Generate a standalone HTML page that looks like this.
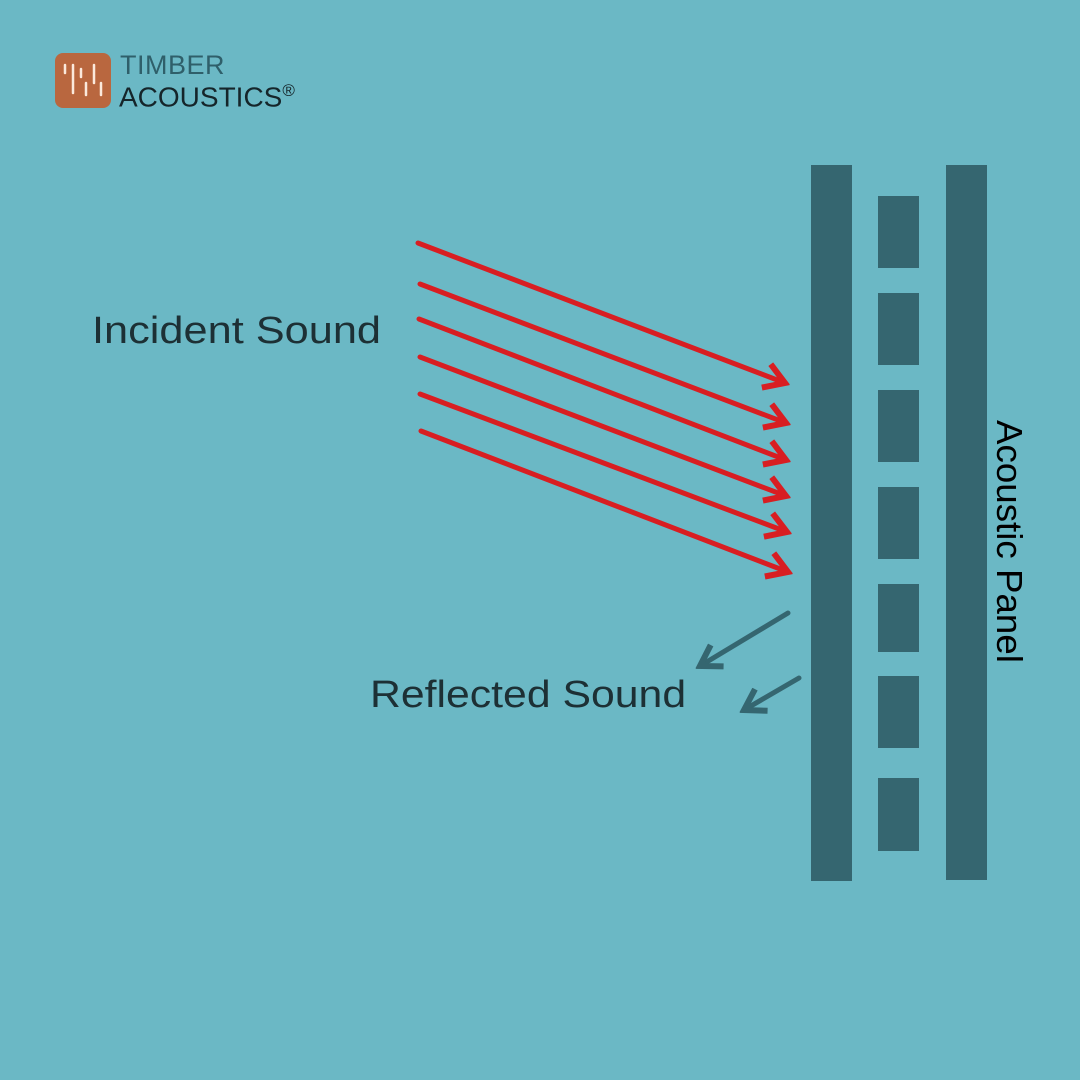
<!DOCTYPE html>
<html><head><style>
body{margin:0;width:1080px;height:1080px;background:#6bb8c5;position:relative;overflow:hidden;font-family:"Liberation Sans",sans-serif}
.b{position:absolute;background:#356670}
.t{position:absolute;white-space:nowrap}
</style></head><body>
<div style="position:absolute;left:55px;top:53px;width:56px;height:55px;background:#b9673f;border-radius:8px"></div>
<svg style="position:absolute;left:55px;top:53px" width="56" height="55"><g stroke="#fbe9dc" stroke-width="2.5" stroke-linecap="round"><line x1="10" y1="12" x2="10" y2="20"/><line x1="18" y1="12" x2="18" y2="40"/><line x1="26" y1="16" x2="26" y2="24"/><line x1="31" y1="30" x2="31" y2="42"/><line x1="39" y1="12" x2="39" y2="30"/><line x1="46" y1="30" x2="46" y2="42"/></g></svg>
<div class="t" style="left:120px;top:50px;font-size:27px;color:#2f5f6a;font-weight:300;letter-spacing:0.5px">TIMBER</div>
<div class="t" style="left:119px;top:81px;font-size:28px;color:#15252a">ACOUSTICS<sup style="font-size:17px">®</sup></div>
<div class="t" style="left:92px;top:310px;font-size:38px;color:#1d3035;transform:scaleX(1.14);transform-origin:0 0">Incident Sound</div>
<div class="t" style="left:370px;top:674px;font-size:38px;color:#1d3035;transform:scaleX(1.125);transform-origin:0 0">Reflected Sound</div>
<div class="b" style="left:811px;top:165px;width:41px;height:716px"></div>
<div class="b" style="left:946px;top:165px;width:41px;height:715px"></div>
<div class="b" style="left:878px;top:196px;width:41px;height:72px"></div>
<div class="b" style="left:878px;top:293px;width:41px;height:72px"></div>
<div class="b" style="left:878px;top:390px;width:41px;height:72px"></div>
<div class="b" style="left:878px;top:487px;width:41px;height:72px"></div>
<div class="b" style="left:878px;top:584px;width:41px;height:68px"></div>
<div class="b" style="left:878px;top:676px;width:41px;height:72px"></div>
<div class="b" style="left:878px;top:778px;width:41px;height:73px"></div>
<div class="t" style="left:1030px;top:420px;font-size:36px;color:#000;transform:rotate(90deg) scaleX(1.02);transform-origin:0 0">Acoustic Panel</div>
<svg style="position:absolute;left:0;top:0" width="1080" height="1080">
<defs>
<marker id="r" markerWidth="6" markerHeight="6" refX="5" refY="3" orient="auto" markerUnits="strokeWidth"><path d="M1,0.5 L5,3 L1,5.5" fill="none" stroke="#d81e22" stroke-width="1.2"/></marker>
<marker id="g" markerWidth="6" markerHeight="6" refX="1" refY="3" orient="auto" markerUnits="strokeWidth"><path d="M5,0.5 L1,3 L5,5.5" fill="none" stroke="#356670" stroke-width="1.2"/></marker>
</defs>
<g stroke="#d81e22" stroke-width="5" fill="none" stroke-linecap="round">
<line x1="418" y1="243" x2="785" y2="383" marker-end="url(#r)"/>
<line x1="420" y1="284" x2="786" y2="423" marker-end="url(#r)"/>
<line x1="419" y1="319" x2="786" y2="460" marker-end="url(#r)"/>
<line x1="420" y1="357" x2="786" y2="496" marker-end="url(#r)"/>
<line x1="420" y1="394" x2="787" y2="532" marker-end="url(#r)"/>
<line x1="421" y1="431" x2="788" y2="572" marker-end="url(#r)"/>
</g>
<g stroke="#356670" stroke-width="5" fill="none" stroke-linecap="round">
<line x1="700" y1="666" x2="788" y2="613" marker-start="url(#g)"/>
<line x1="744" y1="710" x2="799" y2="678" marker-start="url(#g)"/>
</g>
</svg>
</body></html>
